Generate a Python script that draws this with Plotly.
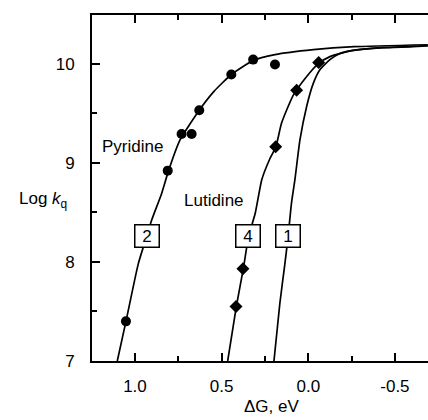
import plotly.graph_objects as go

# Measured data points
pyr_x = [1.052, 0.811, 0.731, 0.673, 0.629, 0.444, 0.318, 0.192]
pyr_y = [7.40, 8.92, 9.29, 9.29, 9.53, 9.89, 10.04, 9.99]
lut_x = [0.417, 0.377, 0.188, 0.067, -0.060]
lut_y = [7.55, 7.93, 9.16, 9.73, 10.01]

# Curve 2 (pyridine fit)
c2_x = [1.102, 1.052, 0.981, 0.932, 0.904, 0.846, 0.808, 0.740, 0.629, 0.544, 0.444, 0.319, 0.192, -0.03, -0.265, -0.69]
c2_y = [7.0, 7.40, 7.98, 8.26, 8.42, 8.69, 8.91, 9.23, 9.53, 9.72, 9.89, 10.03, 10.09, 10.14, 10.17, 10.19]
# Curve 4 (lutidine fit)
c4_x = [0.465, 0.415, 0.375, 0.344, 0.306, 0.268, 0.224, 0.187, 0.154, 0.087, 0.009, -0.058, -0.125, -0.18, -0.25, -0.43, -0.69]
c4_y = [7.0, 7.55, 7.93, 8.26, 8.49, 8.83, 9.03, 9.16, 9.40, 9.68, 9.87, 10.00, 10.07, 10.10, 10.13, 10.16, 10.18]
# Curve 1
c1_x = [0.198, 0.164, 0.135, 0.116, 0.097, 0.077, 0.048, 0.009, -0.029, -0.068, -0.125, -0.18, -0.25, -0.43, -0.60, -0.69]
c1_y = [7.0, 7.58, 7.98, 8.26, 8.59, 8.83, 9.23, 9.57, 9.80, 9.94, 10.04, 10.10, 10.13, 10.16, 10.17, 10.18]

x_tickvals = [1.0, 0.5, 0.0, -0.5]
x_ticktext = ["1.0", "0.5", "0.0", "-0.5"]
y_tickvals = [7, 8, 9, 10]
y_ticktext = ["7", "8", "9", "10"]

box_labels = ["2", "4", "1"]
box_x = [0.932, 0.346, 0.116]
box_y = [8.26, 8.26, 8.26]

W, H = 428, 420
ML, MR, MT, MB = 92, 0, 15, 59
PW, PH = W - ML - MR, H - MT - MB


def px(xp):
    return (xp - ML) / PW


def py(yp):
    return (H - MB - yp) / PH


FONT = "Liberation Sans, Arial, sans-serif"
FS = 17
fig = go.Figure()
line = dict(color="black", width=1.7, shape="spline", smoothing=0.5)
fig.add_trace(go.Scatter(x=c2_x, y=c2_y, mode="lines", line=line, showlegend=False))
fig.add_trace(go.Scatter(x=c4_x, y=c4_y, mode="lines", line=line, showlegend=False))
fig.add_trace(go.Scatter(x=c1_x, y=c1_y, mode="lines", line=line, showlegend=False))
fig.add_trace(go.Scatter(x=pyr_x, y=pyr_y, mode="markers",
                         marker=dict(symbol="circle", size=10, color="black"), showlegend=False))
fig.add_trace(go.Scatter(x=lut_x, y=lut_y, mode="markers",
                         marker=dict(symbol="diamond", size=10, color="black"), showlegend=False))

for t, bx, by in zip(box_labels, box_x, box_y):
    fig.add_annotation(x=bx, y=by, xref="x", yref="y", text=t, showarrow=False,
                       font=dict(family=FONT, size=FS, color="black"),
                       bgcolor="white", bordercolor="black", borderwidth=1.5,
                       width=19, height=17, borderpad=2)

fig.add_annotation(x=1.017, y=9.16, xref="x", yref="y", text="Pyridine", showarrow=False,
                   font=dict(family=FONT, size=FS, color="black"))
fig.add_annotation(x=0.544, y=8.62, xref="x", yref="y", text="Lutidine", showarrow=False,
                   font=dict(family=FONT, size=FS, color="black"))
fig.add_annotation(x=px(271.5), y=py(406.5), xref="paper", yref="paper", text="ΔG, eV",
                   showarrow=False, xanchor="center", yanchor="middle",
                   font=dict(family=FONT, size=FS, color="black"))
fig.add_annotation(x=px(43), y=py(200), xref="paper", yref="paper",
                   text="Log <i>k</i><sub>q</sub>",
                   showarrow=False, xanchor="center", yanchor="middle",
                   font=dict(family=FONT, size=FS, color="black"))

fig.update_layout(
    width=W, height=H,
    margin=dict(l=ML, r=MR, t=MT, b=MB, pad=0),
    paper_bgcolor="white", plot_bgcolor="white",
    font=dict(family=FONT, size=FS, color="black"),
    xaxis=dict(range=[1.248, -0.691], showgrid=False, zeroline=False,
               showline=True, linecolor="black", linewidth=2, mirror="ticks",
               ticks="inside", ticklen=8, tickwidth=1.5, tickcolor="black",
               tickvals=x_tickvals, ticktext=x_ticktext,
               minor=dict(dtick=0.25, tick0=0, ticks="inside", ticklen=5, tickwidth=1.5, tickcolor="black"),
               ticklabelstandoff=9),
    yaxis=dict(range=[7.0, 10.49], showgrid=False, zeroline=False,
               showline=True, linecolor="black", linewidth=2, mirror=False,
               ticks="inside", ticklen=8, tickwidth=1.5, tickcolor="black",
               tickvals=y_tickvals, ticktext=y_ticktext,
               minor=dict(dtick=0.5, tick0=0, ticks="inside", ticklen=5, tickwidth=1.5, tickcolor="black"),
               ticklabelstandoff=12),
)

fig.write_html("out.html")
